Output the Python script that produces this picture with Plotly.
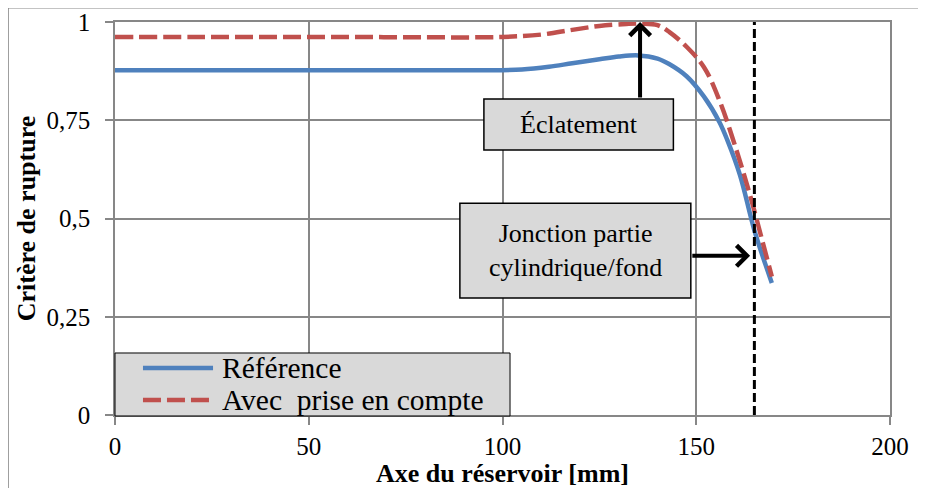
# curve of the rupture criterion along the vessel axis
import plotly.graph_objs as go

# data
x_ref = [0, 20, 40, 60, 80, 95, 105, 112, 118, 125, 130, 135, 140, 143, 147.5,
         152, 156, 158, 161.3, 165, 169.5]
y_ref = [0.877, 0.877, 0.877, 0.877, 0.877, 0.877, 0.879, 0.886, 0.895, 0.905,
         0.912, 0.915, 0.907, 0.893, 0.862, 0.81, 0.745, 0.70, 0.61, 0.47, 0.336]

x_avec = [0, 20, 40, 60, 80, 100, 110, 118, 125, 132, 136, 140, 143, 147.5, 152,
          156, 160.5, 164, 167, 169.5]
y_avec = [0.962, 0.962, 0.962, 0.962, 0.961, 0.962, 0.968, 0.98, 0.99, 0.995,
          0.996, 0.992, 0.975, 0.937, 0.885, 0.80, 0.67, 0.555, 0.445, 0.352]

x_jonction = [165, 165]
y_jonction = [0, 1]

x_ticks = [0, 50, 100, 150, 200]
y_ticks = [0, 0.25, 0.5, 0.75, 1]
y_ticktext = ['0', '0,25', '0,5', '0,75', '1']

names = ['Référence', 'Avec\u00a0 prise en compte']
colors = ['#4F81BD', '#C0504D']
dashes = ['solid', '18px,6px']

font = 'Liberation Serif, Times New Roman, serif'
grid = '#878787'

# create traces
data = [go.Scatter(x=x_ref, y=y_ref, mode='lines', name=names[0], showlegend=False,
                   line=dict(color=colors[0], width=4.5, shape='spline')),
        go.Scatter(x=x_avec, y=y_avec, mode='lines', name=names[1], showlegend=False,
                   line=dict(color=colors[1], width=4.5, shape='spline', dash=dashes[1])),
        go.Scatter(x=x_jonction, y=y_jonction, mode='lines', showlegend=False,
                   line=dict(color='black', width=3, dash='9px,4px'))]

axis_style = dict(showgrid=True, gridcolor=grid, gridwidth=1.5, zeroline=False,
                  showline=True, linecolor=grid, linewidth=1.5, mirror=True,
                  ticks='outside', ticklen=8, tickcolor=grid, tickwidth=1.5,
                  automargin=False,
                  tickfont=dict(family=font, size=25, color='black'))

# boxed legend drawn in the lower left corner
legend_shapes = [dict(type='rect', xref='paper', yref='paper', x0=0, x1=0.5097,
                      y0=-0.0025, y1=0.1578, fillcolor='#D9D9D9',
                      line=dict(color='black', width=1), layer='above')]
legend_notes = []
for i, ypos in enumerate([0.1196, 0.0382]):
    legend_shapes.append(dict(type='line', xref='paper', yref='paper', x0=0.0361, x1=0.1265,
                              y0=ypos, y1=ypos, layer='above',
                              line=dict(color=colors[i], width=4.5, dash=dashes[i])))
    legend_notes.append(dict(x=0.1355, y=ypos, xref='paper', yref='paper', text=names[i],
                             xanchor='left', yanchor='middle', showarrow=False,
                             font=dict(family=font, size=29.5, color='black')))

layout = go.Layout(
    # the page body adds 8px around the plot
    width=918, height=480,
    margin=dict(l=107, r=36, t=14, b=73),
    paper_bgcolor='white', plot_bgcolor='white',
    font=dict(family=font, color='black'),
    xaxis=dict(range=[0, 200], tickvals=x_ticks,
               title=dict(text='<b>Axe du réservoir [mm]</b>', standoff=7,
                          font=dict(family=font, size=26)),
               **axis_style),
    yaxis=dict(range=[0, 1], tickvals=y_ticks, ticktext=y_ticktext, ticklabelstandoff=10,
               title=dict(text='<b>Critère de rupture</b>', standoff=3,
                          font=dict(family=font, size=26)),
               **axis_style),
    shapes=[
        # annotation boxes
        dict(type='rect', xref='x', yref='y', x0=95.2, x1=144.1, y0=0.674, y1=0.804,
             fillcolor='#D9D9D9', line=dict(color='black', width=1.5), layer='above'),
        dict(type='rect', xref='x', yref='y', x0=89.0, x1=148.6, y0=0.298, y1=0.539,
             fillcolor='#D9D9D9', line=dict(color='black', width=1.5), layer='above'),
        # outer frame
        dict(type='line', xref='paper', yref='paper', x0=-0.138, x1=1.05, y0=1.036, y1=1.036,
             line=dict(color=grid, width=1.5)),
        dict(type='line', xref='paper', yref='paper', x0=-0.138, x1=-0.138, y0=1.036, y1=-0.19,
             line=dict(color=grid, width=1.5)),
    ] + legend_shapes,
    annotations=[
        dict(x=119.7, y=0.739, xref='x', yref='y', text='Éclatement', showarrow=False,
             font=dict(family=font, size=26, color='black')),
        dict(x=118.8, y=0.419, xref='x', yref='y', text='Jonction partie<br>cylindrique/fond',
             showarrow=False, font=dict(family=font, size=26, color='black')),
        dict(x=135.5, y=1.0, xref='x', yref='y', ax=135.5, ay=0.804, axref='x', ayref='y',
             text='', showarrow=True, arrowhead=4, arrowwidth=4, arrowsize=1,
             arrowcolor='black'),
        dict(x=163.9, y=0.405, xref='x', yref='y', ax=148.6, ay=0.405, axref='x', ayref='y',
             text='', showarrow=True, arrowhead=4, arrowwidth=4, arrowsize=1,
             arrowcolor='black'),
    ] + legend_notes)

fig = go.Figure(data=data, layout=layout)
fig.write_html('out.html')
